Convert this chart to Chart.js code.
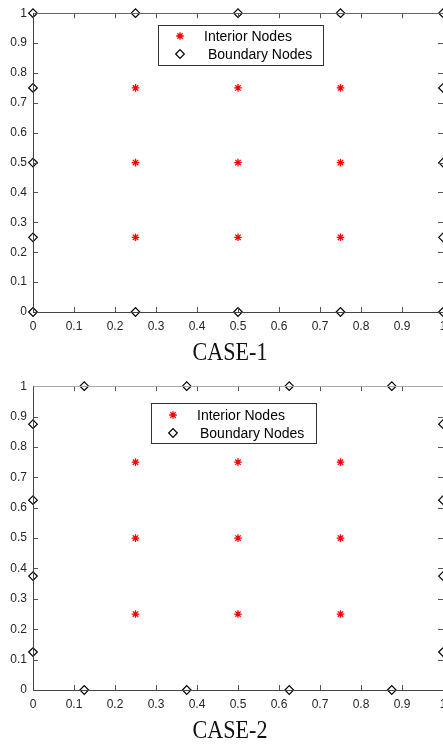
<!DOCTYPE html>
<html>
<head>
<meta charset="utf-8">
<script src="https://cdn.jsdelivr.net/npm/chart.js@4.4.1/dist/chart.umd.min.js"></script>
<style>
  html, body { margin: 0; padding: 0; background: #fff; overflow: hidden; }
  body { width: 443px; height: 744px; position: relative; }
  .plot { position: absolute; left: 0; width: 470px; }
  .caption {
    position: absolute; left: 0; width: 460px; text-align: center;
    font-family: "Liberation Serif", serif; font-size: 26px; color: #111;
    transform: scaleX(0.85); transform-origin: 230px 0;
  }
</style>
</head>
<body>
<div class="plot" style="top:0;height:340px"><canvas id="case1"></canvas></div>
<div class="caption" style="top:337px">CASE-1</div>
<div class="plot" style="top:373px;height:345px"><canvas id="case2"></canvas></div>
<div class="caption" style="top:715px">CASE-2</div>
<script>
// Data
const tickValues = [0, 0.1, 0.2, 0.3, 0.4, 0.5, 0.6, 0.7, 0.8, 0.9, 1];
const tickLabels = ['0', '0.1', '0.2', '0.3', '0.4', '0.5', '0.6', '0.7', '0.8', '0.9', '1'];

const interiorX = [0.25, 0.5, 0.75, 0.25, 0.5, 0.75, 0.25, 0.5, 0.75];
const interiorY = [0.25, 0.25, 0.25, 0.5, 0.5, 0.5, 0.75, 0.75, 0.75];

const case1BoundaryX = [0, 0.25, 0.5, 0.75, 1, 0, 0.25, 0.5, 0.75, 1, 0, 0, 0, 1, 1, 1];
const case1BoundaryY = [0, 0, 0, 0, 0, 1, 1, 1, 1, 1, 0.25, 0.5, 0.75, 0.25, 0.5, 0.75];

const case2BoundaryX = [0.125, 0.375, 0.625, 0.875, 0.125, 0.375, 0.625, 0.875, 0, 0, 0, 0, 1, 1, 1, 1];
const case2BoundaryY = [0, 0, 0, 0, 1, 1, 1, 1, 0.125, 0.375, 0.625, 0.875, 0.125, 0.375, 0.625, 0.875];

const seriesNames = ['Interior Nodes', 'Boundary Nodes'];

const toPoints = (xs, ys) => xs.map((x, i) => ({ x: x, y: ys[i] }));

// Box outline with inward ticks, MATLAB style
const boxTicks = {
  id: 'boxTicks',
  afterDraw(chart, args, opts) {
    const { ctx, chartArea: a, scales } = chart;
    const len = 5;
    ctx.save();
    ctx.strokeStyle = '#555';
    ctx.lineWidth = 1;
    ctx.beginPath();
    scales.x.ticks.forEach((t) => {
      const px = Math.round(scales.x.getPixelForValue(t.value)) + 0.5;
      ctx.moveTo(px, a.bottom); ctx.lineTo(px, a.bottom - len);
      ctx.moveTo(px, a.top); ctx.lineTo(px, a.top + len);
    });
    scales.y.ticks.forEach((t) => {
      const py = Math.round(scales.y.getPixelForValue(t.value)) + 0.5;
      ctx.moveTo(a.left, py); ctx.lineTo(a.left + len, py);
      ctx.moveTo(a.right, py); ctx.lineTo(a.right - len, py);
    });
    ctx.stroke();
    const l = Math.round(a.left) + 0.5, r = Math.round(a.right) + 0.5;
    const t = Math.round(a.top) + 0.5, b = Math.round(a.bottom) + 0.5;
    // top edge
    ctx.strokeStyle = opts.topColor || '#777';
    ctx.beginPath();
    ctx.moveTo(l, t); ctx.lineTo(r, t);
    ctx.stroke();
    // left, bottom, right edges
    ctx.strokeStyle = '#444';
    ctx.beginPath();
    ctx.moveTo(l, t); ctx.lineTo(l, b); ctx.lineTo(r, b); ctx.lineTo(r, t);
    ctx.stroke();
    ctx.restore();
  },
};

// Legend box inside the plot
const boxLegend = {
  id: 'boxLegend',
  afterDatasetsDraw(chart, args, opts) {
    const { ctx } = chart;
    ctx.save();
    ctx.fillStyle = '#fff';
    ctx.fillRect(opts.left, opts.top, opts.width, opts.height);
    ctx.strokeStyle = '#333';
    ctx.lineWidth = 1;
    ctx.strokeRect(opts.left + 0.5, opts.top + 0.5, opts.width, opts.height);
    chart.data.datasets.forEach((ds, i) => {
      const y = opts.top + opts.rows[i];
      ctx.strokeStyle = ds.borderColor;
      ctx.fillStyle = ds.backgroundColor;
      ctx.lineWidth = ds.borderWidth;
      Chart.helpers.drawPoint(ctx, {
        pointStyle: ds.pointStyle,
        radius: ds.pointRadius,
        borderWidth: ds.borderWidth,
        rotation: 0,
      }, opts.left + opts.markerX, y);
      ctx.fillStyle = '#000';
      ctx.font = '14px "Liberation Sans", Arial, sans-serif';
      ctx.textBaseline = 'middle';
      ctx.fillText(ds.label, opts.left + opts.textX[i], y + 1);
    });
    ctx.restore();
  },
};

const makeScale = (axis) => ({
  type: 'linear',
  min: 0,
  max: 1,
  afterBuildTicks: (scale) => {
    scale.ticks = tickValues.map((v) => ({ value: v }));
  },
  afterFit: (scale) => {
    if (axis === 'x') scale.height = 28;
    else scale.width = 33;
  },
  grid: { display: true, drawOnChartArea: false, drawTicks: false },
  border: { display: false },
  ticks: {
    padding: axis === 'x' ? 7 : 6,
    color: '#262626',
    font: { family: '"Liberation Sans", Arial, sans-serif', size: 12 },
    maxRotation: 0,
    autoSkip: false,
    callback: (v) => tickLabels[tickValues.indexOf(v)],
  },
});

const createChart = (id, boundaryX, boundaryY, legendPos, topColor) => {
  new Chart(document.getElementById(id), {
    type: 'scatter',
    data: {
      datasets: [
        {
          label: seriesNames[0],
          data: toPoints(interiorX, interiorY),
          pointStyle: 'star',
          pointRadius: 3.8,
          borderColor: '#ff0000',
          backgroundColor: '#ff0000',
          borderWidth: 1.3,
          clip: false,
        },
        {
          label: seriesNames[1],
          data: toPoints(boundaryX, boundaryY),
          pointStyle: 'rectRot',
          pointRadius: 4.3,
          borderColor: '#000',
          backgroundColor: 'rgba(255,255,255,0)',
          borderWidth: 1.2,
          clip: false,
        },
      ],
    },
    options: {
      responsive: true,
      maintainAspectRatio: false,
      animation: false,
      layout: { padding: { top: 13, right: 27, left: 0, bottom: 0 } },
      scales: { x: makeScale('x'), y: makeScale('y') },
      plugins: {
        legend: { display: false },
        tooltip: { enabled: false },
        boxLegend: legendPos,
        boxTicks: { topColor: topColor },
      },
      elements: { point: { hoverRadius: 4 } },
    },
    plugins: [boxTicks, boxLegend],
  });
};

createChart('case1', case1BoundaryX, case1BoundaryY, {
  left: 158, top: 25, width: 165, height: 40,
  markerX: 22, rows: [11, 29], textX: [46, 50],
}, '#666');

createChart('case2', case2BoundaryX, case2BoundaryY, {
  left: 151, top: 30, width: 165, height: 40,
  markerX: 22, rows: [12, 30], textX: [46, 49],
}, '#aaa');
</script>
</body>
</html>
